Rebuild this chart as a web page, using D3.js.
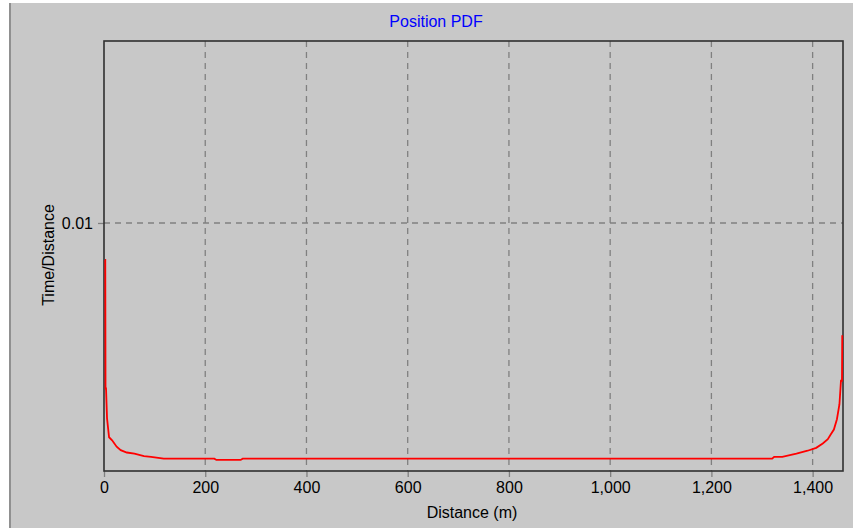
<!DOCTYPE html>
<html>
<head>
<meta charset="utf-8">
<script src="https://cdn.jsdelivr.net/npm/d3@7"></script>
<style>
  html, body { margin: 0; padding: 0; background: #ffffff; }
  svg { display: block; }
  text { font-family: "Liberation Sans", Arial, sans-serif; }
</style>
</head>
<body>
<svg id="chart" width="853" height="528"></svg>
<script>
// ---- data ----
const chartTitle = "Position PDF";
const xLabel = "Distance (m)";
const yLabel = "Time/Distance";
const xTicks = [0, 200, 400, 600, 800, 1000, 1200, 1400];
const yTicks = [0.01];
// distance (m)
const distance = [2, 2.5, 3, 4, 6, 10, 16, 25, 33, 45, 60, 79, 93, 118, 155, 190, 218, 222, 270, 274, 500, 800, 1100, 1320, 1324, 1340, 1368, 1390, 1407, 1420, 1430, 1436, 1442, 1448, 1453, 1456, 1458, 1458.5];
// time per distance
const density = [0.00657, 0.00657, 0.00153, 0.00153, 0.00109, 0.00088, 0.00085, 0.00079, 0.00076, 0.00074, 0.00073, 0.00071, 0.000705, 0.00069, 0.00069, 0.00069, 0.00069, 0.00068, 0.00068, 0.00069, 0.00069, 0.00069, 0.00069, 0.00069, 0.000705, 0.000705, 0.00073, 0.000755, 0.00078, 0.00082, 0.00086, 0.00091, 0.00096, 0.00108, 0.00128, 0.00167, 0.00167, 0.00280];

// ---- layout ----
const svg = d3.select("#chart");
const W = 853, H = 528;
const m = { left: 104, top: 41, right: 843, bottom: 471 };
const fs = "16px";

svg.append("rect").attr("x", 9).attr("y", 3).attr("width", W - 9).attr("height", H - 3).attr("fill", "#c8c8c8");
svg.append("line").attr("x1", 10).attr("x2", 10).attr("y1", 3).attr("y2", H).attr("stroke", "#909090").attr("stroke-width", 2);

const x = d3.scaleLinear().domain([0, 1460]).range([m.left, m.right]);
const y = d3.scaleLog().domain([0.0006, 0.0788]).range([m.bottom, m.top]);

// grid
const grid = svg.append("g");
grid.selectAll("line.vg").data(xTicks.filter(d => d > 0)).enter().append("line")
  .attr("x1", d => x(d)).attr("x2", d => x(d))
  .attr("y1", m.top).attr("y2", m.bottom)
  .attr("stroke", "#808080").attr("stroke-width", 1.3).attr("stroke-dasharray", "6,5");
grid.selectAll("line.hg").data(yTicks).enter().append("line")
  .attr("x1", m.left).attr("x2", m.right)
  .attr("y1", d => y(d)).attr("y2", d => y(d))
  .attr("stroke", "#808080").attr("stroke-width", 1.3).attr("stroke-dasharray", "6,5");

// axes
const xAxis = d3.axisBottom(x).tickValues(xTicks).tickSize(6).tickPadding(5)
  .tickFormat(d3.format(","));
const gx = svg.append("g").attr("transform", `translate(0,${m.bottom})`).call(xAxis);
gx.select(".domain").remove();
gx.selectAll(".tick line").attr("stroke", "#808080").attr("stroke-width", 1.3);
gx.selectAll(".tick text").attr("fill", "#000").style("font-size", fs);

const yAxis = d3.axisLeft(y).tickValues(yTicks).tickSize(6).tickPadding(5)
  .tickFormat(d3.format(".2f"));
const gy = svg.append("g").attr("transform", `translate(${m.left},0)`).call(yAxis);
gy.select(".domain").remove();
gy.selectAll(".tick line").attr("stroke", "#808080").attr("stroke-width", 1.3);
gy.selectAll(".tick text").attr("fill", "#000").style("font-size", fs);

// frame
svg.append("rect").attr("x", m.left).attr("y", m.top)
  .attr("width", m.right - m.left).attr("height", m.bottom - m.top)
  .attr("fill", "none").attr("stroke", "#303030").attr("stroke-width", 1.6);

// curve
const line = d3.line().x((d, i) => x(distance[i])).y(d => y(d)).curve(d3.curveLinear);
svg.append("path").datum(density)
  .attr("d", line)
  .attr("fill", "none").attr("stroke", "#ff0000").attr("stroke-width", 1.8);

// titles
svg.append("text").attr("x", 436).attr("y", 27).attr("text-anchor", "middle")
  .attr("fill", "#0000ff").style("font-size", fs).text(chartTitle);
svg.append("text").attr("x", 472).attr("y", 518).attr("text-anchor", "middle")
  .attr("fill", "#000").style("font-size", fs).text(xLabel);
svg.append("text").attr("transform", "translate(54,255) rotate(-90)").attr("text-anchor", "middle")
  .attr("fill", "#000").style("font-size", fs).text(yLabel);
</script>
</body>
</html>
